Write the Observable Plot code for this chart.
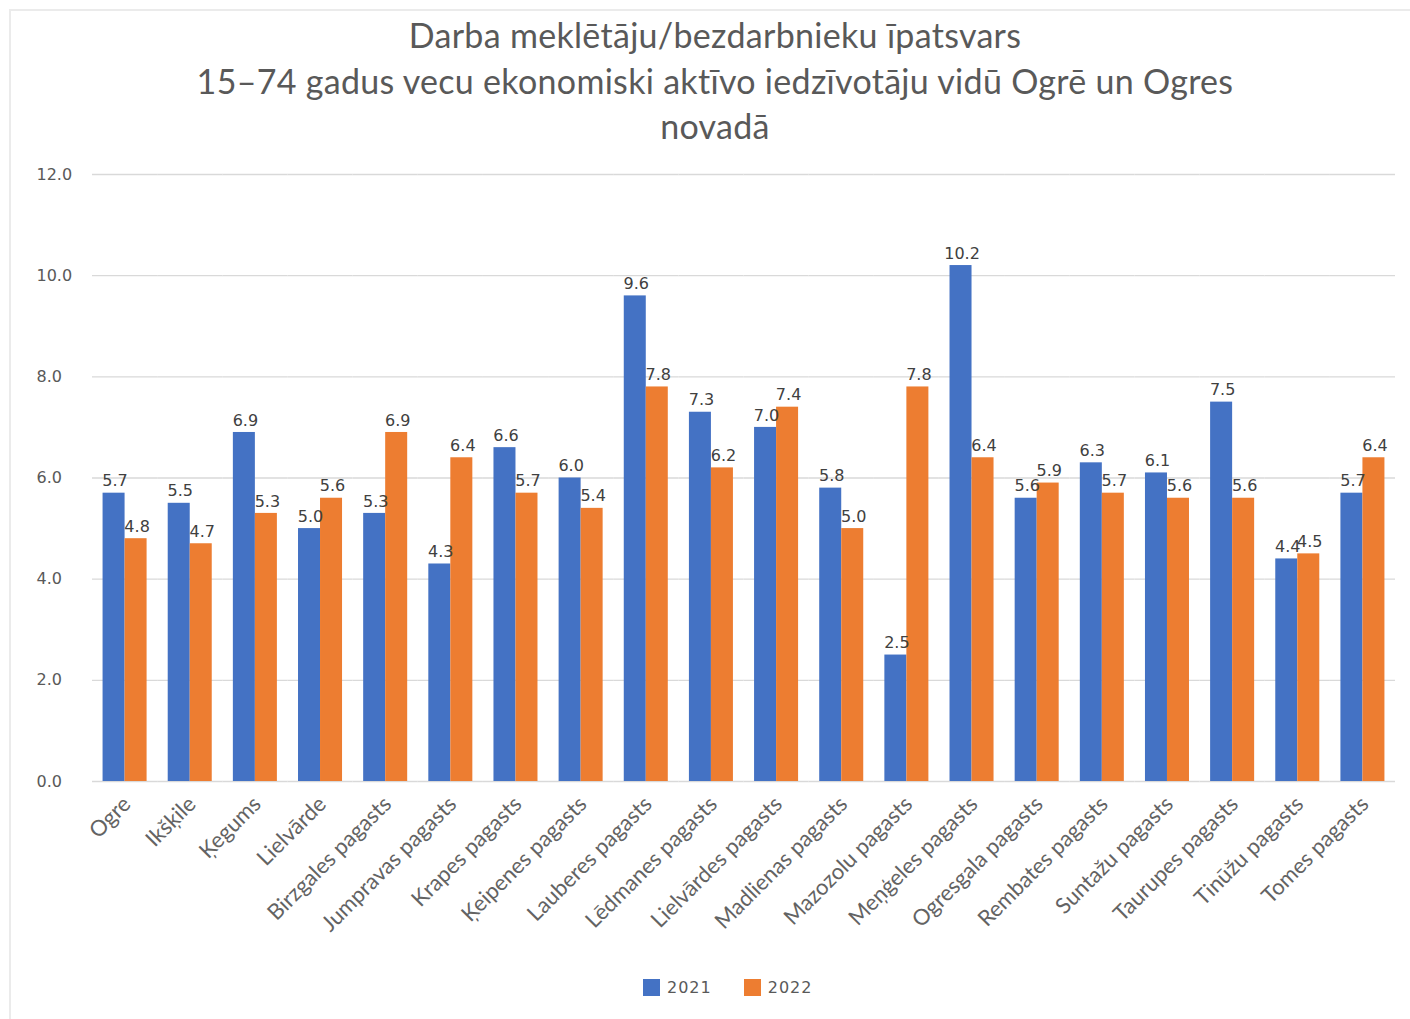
<!DOCTYPE html>
<html>
<head>
<meta charset="utf-8">
<script src="https://cdn.jsdelivr.net/npm/d3@7"></script>
<script src="https://cdn.jsdelivr.net/npm/@observablehq/plot@0.6"></script>
<style>
  html, body { margin: 0; padding: 0; background: #fff; }
  #wrap { position: relative; width: 1410px; height: 1019px; overflow: hidden; }
  #frame { position: absolute; left: 9px; top: 9px; width: 1420px; height: 1030px;
           border-left: 2px solid #ebebeb; border-top: 2px solid #ebebeb; }
  #title { position: absolute; left: 0; top: 12px; width: 1430px; text-align: center;
           font-family: Lato, "Open Sans", sans-serif; font-size: 34px; letter-spacing: 0.3px; line-height: 45.5px; color: #595959; }
  #chart { position: absolute; left: 0; top: 150px; }
  #legend { position: absolute; top: 978px; left: 643px; display: flex; align-items: center;
            font-family: "DejaVu Sans", sans-serif; font-size: 16px; color: #595959; letter-spacing: 1px; }
  .sw { display: inline-block; width: 17px; height: 17px; margin-right: 7px; }
</style>
</head>
<body>
<div id="wrap">
  <div id="frame"></div>
  <div id="title">Darba meklētāju/bezdarbnieku īpatsvars<br>15–74 gadus vecu ekonomiski aktīvo iedzīvotāju vidū Ogrē un Ogres<br>novadā</div>
  <div id="chart"></div>
  <div id="legend">
    <span class="sw" style="background:#4472C4"></span><span>2021</span>
    <span class="sw" style="background:#ED7D31; margin-left:32px"></span><span>2022</span>
  </div>
</div>
<script>
const categories = ["Ogre", "Ikšķile", "Ķegums", "Lielvārde", "Birzgales pagasts", "Jumpravas pagasts",
  "Krapes pagasts", "Ķeipenes pagasts", "Lauberes pagasts", "Lēdmanes pagasts", "Lielvārdes pagasts",
  "Madlienas pagasts", "Mazozolu pagasts", "Meņģeles pagasts", "Ogresgala pagasts", "Rembates pagasts",
  "Suntažu pagasts", "Taurupes pagasts", "Tinūžu pagasts", "Tomes pagasts"];
const years = ["2021", "2022"];
const values2021 = [5.7, 5.5, 6.9, 5.0, 5.3, 4.3, 6.6, 6.0, 9.6, 7.3, 7.0, 5.8, 2.5, 10.2, 5.6, 6.3, 6.1, 7.5, 4.4, 5.7];
const values2022 = [4.8, 4.7, 5.3, 5.6, 6.9, 6.4, 5.7, 5.4, 7.8, 6.2, 7.4, 5.0, 7.8, 6.4, 5.9, 5.7, 5.6, 5.6, 4.5, 6.4];
const yTicks = [0, 2, 4, 6, 8, 10, 12];
const colors = ["#4472C4", "#ED7D31"];

const data = [];
categories.forEach((c, i) => {
  data.push({cat: c, year: years[0], value: values2021[i]});
  data.push({cat: c, year: years[1], value: values2022[i]});
});

const chart = Plot.plot({
  width: 1410,
  height: 815,
  marginTop: 24,
  marginBottom: 184,
  marginLeft: 92,
  marginRight: 15,
  style: {fontFamily: "DejaVu Sans, sans-serif", background: "transparent"},
  fx: {domain: categories, padding: 0, round: false, label: null},
  x: {domain: years, paddingInner: 0, paddingOuter: 0.48, round: false, axis: null},
  y: {domain: [0, 12], label: null},
  color: {domain: years, range: colors},
  marks: [
    Plot.gridY(yTicks, {stroke: "#d9d9d9", strokeOpacity: 1, strokeWidth: 1.3}),
    Plot.axisY(yTicks, {tickSize: 0, tickPadding: 0, textAnchor: "start", dx: -56,
      tickFormat: d3.format(".1f"), fontSize: 16, fill: "#595959", label: null, letterSpacing: 2.3}),
    Plot.axisFx({anchor: "bottom", tickRotate: -45, tickSize: 0, tickPadding: 19, fontSize: 22, fill: "#636363",
      fontFamily: "Lato, sans-serif", label: null, dx: 2, letterSpacing: 0.5}),
    Plot.barY(data, {fx: "cat", x: "year", y: "value", fill: "year", inset: 0}),
    Plot.text(data, {fx: "cat", x: "year", y: "value", text: d => d3.format(".1f")(d.value),
      dy: -12, dx: 1, fontSize: 16, fill: "#404040", letterSpacing: 2})
  ]
});
document.getElementById("chart").appendChild(chart);
</script>
</body>
</html>
